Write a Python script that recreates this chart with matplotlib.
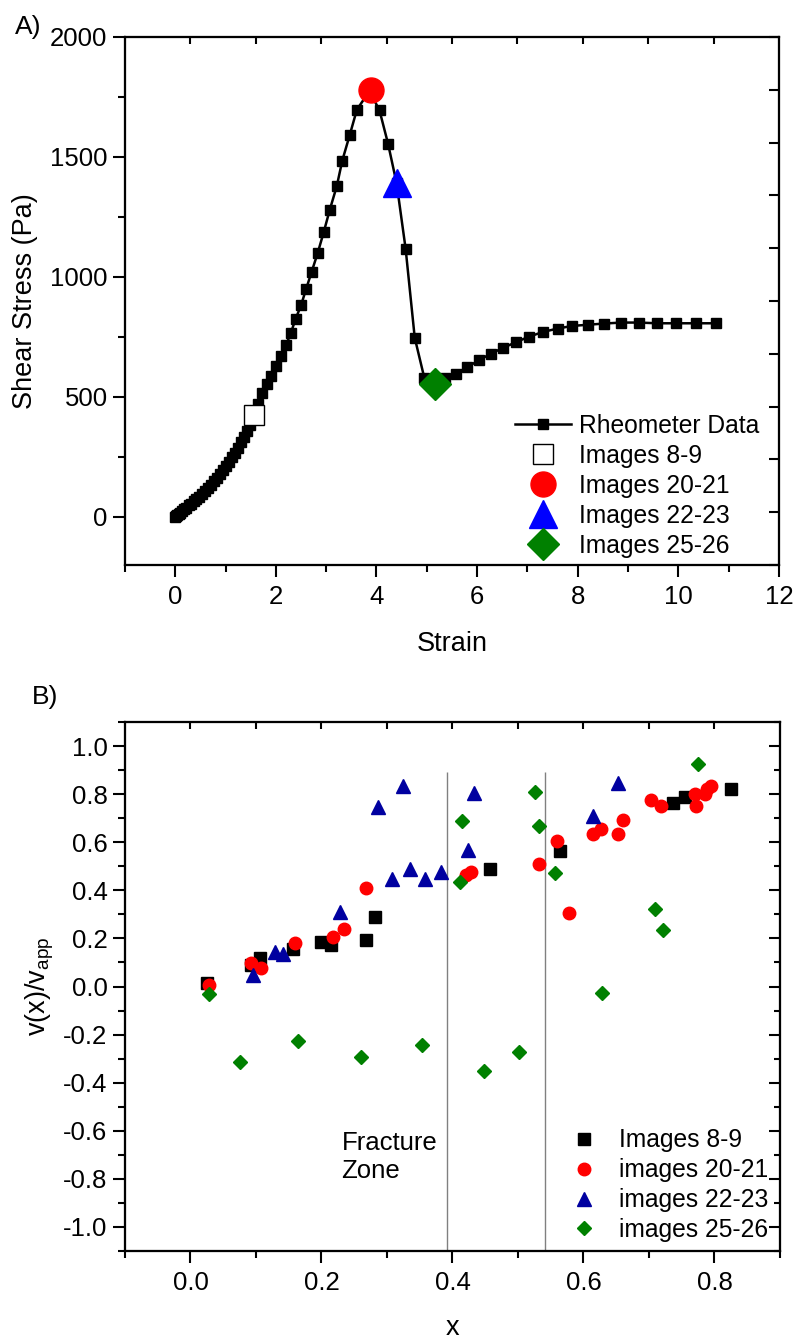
import matplotlib
matplotlib.use("Agg")
import matplotlib.pyplot as plt
from matplotlib.ticker import MultipleLocator, FormatStrFormatter

plt.rcParams.update({
    "font.family": ["Liberation Sans", "DejaVu Sans"],
    "font.size": 18.5,
    "mathtext.default": "regular",
    "axes.unicode_minus": False,
    "axes.linewidth": 1.5,
})

# ---- panel A: rheometer sweep ----
strain = [0.00, 0.02, 0.04, 0.07, 0.10, 0.14, 0.18, 0.22, 0.27, 0.32, 0.37, 0.42,
          0.47, 0.53, 0.59, 0.65, 0.71, 0.77, 0.83, 0.89, 0.95, 1.01, 1.07, 1.13,
          1.19, 1.25, 1.31, 1.37, 1.43, 1.49, 1.56, 1.65, 1.73, 1.83, 1.91, 2.01,
          2.11, 2.20, 2.30, 2.39, 2.50, 2.60, 2.71, 2.83, 2.95, 3.07, 3.21, 3.32,
          3.47, 3.61, 3.86, 4.06, 4.23, 4.40, 4.58, 4.76, 4.95, 5.17, 5.37, 5.58,
          5.80, 6.03, 6.27, 6.52, 6.78, 7.03, 7.31, 7.60, 7.89, 8.21, 8.53, 8.87,
          9.21, 9.58, 9.96, 10.35, 10.75]
stress = [0, 3, 7, 12, 18, 25, 32, 39, 48, 56, 65, 74,
          83, 95, 107, 120, 134, 148, 163, 178, 194, 211, 229, 248,
          268, 289, 311, 334, 358, 385, 420, 470, 517, 552, 589, 628,
          670, 715, 768, 824, 882, 949, 1021, 1099, 1186, 1279, 1378, 1485,
          1593, 1697, 1775, 1694, 1555, 1390, 1116, 747, 580, 560, 578, 597,
          624, 652, 680, 705, 729, 751, 771, 785, 796, 801, 806, 810,
          810, 807, 807, 807, 807]

img_labels_a = ["Images 8-9", "Images 20-21", "Images 22-23", "Images 25-26"]
img_strain = [1.56, 3.90, 4.40, 5.16]
img_stress = [426, 1781, 1390, 552]

# ---- panel B: velocity profiles ----
x_8_9 = [0.026, 0.092, 0.106, 0.156, 0.200, 0.214, 0.268, 0.281, 0.457, 0.564,
         0.736, 0.755, 0.825]
v_8_9 = [0.015, 0.090, 0.120, 0.157, 0.186, 0.172, 0.195, 0.289, 0.490, 0.562,
         0.765, 0.789, 0.822]

x_20_21 = [0.028, 0.093, 0.107, 0.159, 0.218, 0.235, 0.268, 0.421, 0.429, 0.532,
           0.560, 0.578, 0.614, 0.626, 0.652, 0.660, 0.703, 0.719, 0.771, 0.772,
           0.785, 0.788, 0.794]
v_20_21 = [0.007, 0.099, 0.079, 0.182, 0.205, 0.240, 0.410, 0.465, 0.476, 0.508,
           0.605, 0.307, 0.633, 0.657, 0.633, 0.693, 0.776, 0.751, 0.799, 0.751,
           0.800, 0.820, 0.835]

x_22_23 = [0.096, 0.129, 0.141, 0.229, 0.286, 0.307, 0.325, 0.335, 0.358, 0.382,
           0.423, 0.433, 0.614, 0.652]
v_22_23 = [0.049, 0.143, 0.136, 0.310, 0.747, 0.446, 0.835, 0.490, 0.446, 0.476,
           0.567, 0.806, 0.708, 0.845]

x_25_26 = [0.029, 0.075, 0.164, 0.261, 0.354, 0.412, 0.415, 0.448, 0.502, 0.526,
           0.532, 0.556, 0.628, 0.709, 0.721, 0.775]
v_25_26 = [-0.033, -0.315, -0.228, -0.295, -0.242, 0.435, 0.688, -0.353, -0.274, 0.810,
           0.667, 0.470, -0.026, 0.324, 0.233, 0.924]

zone_edges = [0.392, 0.541]

top_ticks = [0.0, 0.1, 0.2, 0.3, 0.4, 0.5, 0.6, 0.7, 0.8]

LEG_FS = 17.7


def base_ticks(ax):
    ax.tick_params(which="major", direction="out", length=8.5, width=1.5, pad=4)
    ax.tick_params(axis="x", which="major", pad=6)
    ax.tick_params(which="minor", direction="out", length=5, width=1.5)


def top_tick_axis(ax):
    t = ax.twiny()
    t.set_xlim(-0.1, 0.9)
    t.set_xticks(top_ticks)
    t.tick_params(axis="x", direction="in", length=5, width=1.5, labeltop=False)
    return t


fig = plt.figure(figsize=(7.99, 13.40), dpi=100)

# ---------------- A ----------------
axA = fig.add_axes([0.1564, 0.5784, 0.8185, 0.394])
axA.plot(strain, stress, "-s", color="black", lw=1.8, ms=7, label="Rheometer Data", zorder=2)
styles_a = [dict(marker="s", mfc="white", mec="black", mew=1.0, ms=15),
            dict(marker="o", mfc="red", mec="red", ms=18),
            dict(marker="^", mfc="blue", mec="blue", ms=20),
            dict(marker="D", mfc="green", mec="green", ms=16)]
for xs, ys, lab, st in zip(img_strain, img_stress, img_labels_a, styles_a):
    axA.plot([xs], [ys], ls="none", label=lab, zorder=3, **st)

axA.set_xlim(-1, 12)
axA.set_ylim(-200, 2000)
axA.xaxis.set_major_locator(MultipleLocator(2))
axA.xaxis.set_minor_locator(MultipleLocator(1))
axA.yaxis.set_major_locator(MultipleLocator(500))
axA.yaxis.set_minor_locator(MultipleLocator(250))
base_ticks(axA)
axA.set_xlabel("Strain", fontsize=19.5, labelpad=15.5)
axA.set_ylabel("Shear Stress (Pa)", fontsize=19.5, labelpad=9)
axA.legend(loc="lower left", bbox_to_anchor=(0.596, 0.014), frameon=False,
           borderaxespad=0, borderpad=0, handlelength=2.3, handletextpad=0.3,
           labelspacing=0.24, numpoints=1, fontsize=LEG_FS)

top_tick_axis(axA)
rA = axA.twinx()
rA.set_ylim(0, 10)
rA.set_yticks(range(11))
rA.tick_params(axis="y", direction="in", length=7, width=1.5, labelright=False)

# ---------------- B ----------------
axB = fig.add_axes([0.1564, 0.0664, 0.8198, 0.3948])
axB.vlines(zone_edges, -1.1, 0.89, colors="#808080", lw=1.0, zorder=1)
axB.plot(x_8_9, v_8_9, ls="none", marker="s", color="black", ms=8, label="Images 8-9")
axB.plot(x_20_21, v_20_21, ls="none", marker="o", color="red", ms=9, label="images 20-21")
axB.plot(x_22_23, v_22_23, ls="none", marker="^", color="#0000A0", ms=10, label="images 22-23")
axB.plot(x_25_26, v_25_26, ls="none", marker="D", color="green", ms=7.5, label="images 25-26")

axB.set_xlim(-0.1, 0.9)
axB.set_ylim(-1.1, 1.1)
axB.xaxis.set_major_locator(MultipleLocator(0.2))
axB.xaxis.set_minor_locator(MultipleLocator(0.1))
axB.yaxis.set_major_locator(MultipleLocator(0.2))
axB.yaxis.set_minor_locator(MultipleLocator(0.1))
axB.xaxis.set_major_formatter(FormatStrFormatter("%.1f"))
axB.yaxis.set_major_formatter(FormatStrFormatter("%.1f"))
base_ticks(axB)
axB.set_xlabel("x", fontsize=19.5, labelpad=14)
axB.set_ylabel("v(x)/v$_{app}$", fontsize=19.5, labelpad=5)
axB.text(0.2305, -0.6, "Fracture\nZone", ha="left", va="top", fontsize=18.5, linespacing=1.2)
axB.legend(loc="lower left", bbox_to_anchor=(0.657, 0.017), frameon=False,
           borderaxespad=0, borderpad=0, handlelength=2.3, handletextpad=0.3,
           labelspacing=0.24, numpoints=1, fontsize=LEG_FS)

top_tick_axis(axB)
rB = axB.twinx()
rB.set_ylim(-1.1, 1.1)
rB.yaxis.set_major_locator(MultipleLocator(0.2))
rB.yaxis.set_minor_locator(MultipleLocator(0.1))
rB.tick_params(axis="y", which="major", direction="in", length=8, width=1.5, labelright=False)
rB.tick_params(axis="y", which="minor", direction="in", length=4.5, width=1.5)

fig.text(15 / 799, 1 - 15 / 1340, "A)", ha="left", va="top", fontsize=19)
fig.text(32 / 799, 1 - 685 / 1340, "B)", ha="left", va="top", fontsize=19)

fig.savefig("out.png", dpi=100, facecolor="white")
plt.close(fig)
